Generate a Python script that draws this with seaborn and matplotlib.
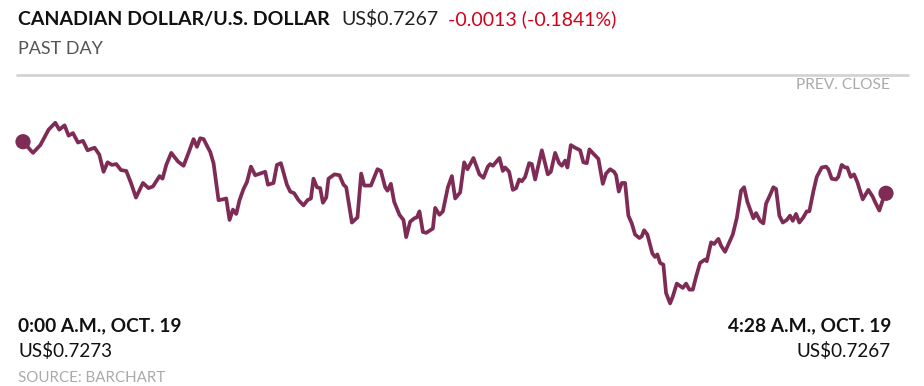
import matplotlib
matplotlib.use("Agg")
import matplotlib.pyplot as plt
import seaborn as sns
import pandas as pd
from matplotlib.lines import Line2D

# ---- data (minutes after 0:00, CAD/USD price) ----
minutes = [0, 3.10, 5.37, 7.95, 10.03, 11.27, 12.91, 14.16, 15.52, 17.07, 18.63, 20.05, 22.23, 23.69,
           25.02, 26.26, 27.63, 28.96, 30.42, 32.07, 33.53, 35.08, 37.25, 38.99, 40.36, 42.41, 43.34,
           44.49, 46.04, 48.12, 49.86, 51.41, 52.96, 54.02, 55.04, 56.07, 58.15, 59.17, 60.72, 62.09,
           63.11, 64.14, 65.19, 66.22, 67.24, 68.48, 69.54, 70.78, 72.12, 73.67, 75.22, 76.06, 77.80,
           78.85, 80.09, 81.96, 82.98, 84.22, 85.56, 87.11, 88.35, 89.41, 90.21, 91.27, 92.29, 93.13,
           94.16, 94.87, 96.73, 98.29, 99.53, 100.37, 102.14, 103.87, 105.02, 105.96, 108.04, 110.08,
           111.14, 112.47, 113.19, 114.24, 115.27, 116.91, 118.15, 118.99, 120.23, 121.57, 122.31,
           123.12, 124.18, 125.20, 127.28, 128.00, 129.33, 130.39, 131.94, 133.18, 134.21, 135.76,
           137.00, 138.02, 139.88, 141.75, 142.99, 144.35, 145.07, 145.91, 147.96, 149.01, 149.73,
           150.97, 152.12, 153.14, 154.07, 154.91, 155.93, 157.18, 158.01, 159.04, 161.12, 162.98,
           163.91, 165.25, 166.49, 167.33, 168.35, 169.07, 170.12, 171.46, 173.01, 174.03, 175.09,
           175.90, 177.14, 178.69, 180.06, 181.08, 182.32, 183.56, 184.18, 185.02, 185.95, 186.98,
           188.00, 189.06, 190.08, 191.42, 192.16, 192.88, 193.90, 195.45, 196.29, 197.00, 197.84,
           198.87, 199.70, 200.95, 201.79, 203.03, 204.89, 205.92, 206.94, 208.00, 209.02, 210.26,
           211.81, 212.34, 213.68, 214.61, 215.94, 216.78, 218.02, 218.74, 220.41, 221.66, 222.99,
           223.93, 224.95, 226.81, 227.65, 228.89, 229.91, 230.75, 231.99, 233.02, 233.86, 234.88,
           235.94, 237.18, 238.20, 239.04, 240.06, 241.09, 242.33, 243.38, 244.19, 245.43, 246.49,
           248.04, 249.37, 250.09, 251.14, 252.48, 253.19, 254.25, 255.27, 255.99, 257.05, 258.07,
           259.10, 260.77, 262.51, 263.88, 264.59, 265.93, 266.98, 268]
prices = [0.72730, 0.72717, 0.72726, 0.72744, 0.72752, 0.72744, 0.72749, 0.72737, 0.72740, 0.72729,
          0.72731, 0.72720, 0.72723, 0.72715, 0.72695, 0.72706, 0.72703, 0.72704, 0.72697, 0.72696,
          0.72682, 0.72665, 0.72682, 0.72676, 0.72678, 0.72690, 0.72687, 0.72703, 0.72717, 0.72707,
          0.72702, 0.72717, 0.72733, 0.72724, 0.72734, 0.72733, 0.72718, 0.72705, 0.72662, 0.72663,
          0.72664, 0.72639, 0.72651, 0.72646, 0.72662, 0.72675, 0.72683, 0.72701, 0.72691, 0.72693,
          0.72695, 0.72680, 0.72682, 0.72703, 0.72705, 0.72680, 0.72672, 0.72670, 0.72662, 0.72656,
          0.72662, 0.72664, 0.72687, 0.72677, 0.72676, 0.72659, 0.72665, 0.72687, 0.72692, 0.72691,
          0.72680, 0.72677, 0.72636, 0.72642, 0.72693, 0.72679, 0.72679, 0.72698, 0.72696, 0.72677,
          0.72673, 0.72681, 0.72660, 0.72645, 0.72639, 0.72619, 0.72637, 0.72641, 0.72642, 0.72649,
          0.72625, 0.72624, 0.72629, 0.72653, 0.72645, 0.72649, 0.72677, 0.72690, 0.72664, 0.72671,
          0.72706, 0.72698, 0.72711, 0.72692, 0.72688, 0.72701, 0.72704, 0.72702, 0.72711, 0.72696,
          0.72700, 0.72695, 0.72674, 0.72676, 0.72686, 0.72684, 0.72689, 0.72705, 0.72704, 0.72686,
          0.72720, 0.72692, 0.72695, 0.72717, 0.72705, 0.72702, 0.72708, 0.72700, 0.72726, 0.72723,
          0.72720, 0.72706, 0.72705, 0.72721, 0.72716, 0.72710, 0.72681, 0.72693, 0.72698, 0.72695,
          0.72691, 0.72672, 0.72682, 0.72682, 0.72644, 0.72635, 0.72622, 0.72618, 0.72620, 0.72627,
          0.72622, 0.72600, 0.72596, 0.72599, 0.72589, 0.72587, 0.72554, 0.72542, 0.72550, 0.72565,
          0.72560, 0.72565, 0.72558, 0.72558, 0.72573, 0.72589, 0.72593, 0.72591, 0.72613, 0.72611,
          0.72617, 0.72609, 0.72602, 0.72608, 0.72622, 0.72641, 0.72673, 0.72677, 0.72660, 0.72641,
          0.72647, 0.72638, 0.72635, 0.72658, 0.72668, 0.72677, 0.72675, 0.72644, 0.72636, 0.72639,
          0.72644, 0.72638, 0.72646, 0.72636, 0.72642, 0.72649, 0.72649, 0.72672, 0.72689, 0.72700,
          0.72701, 0.72698, 0.72687, 0.72686, 0.72689, 0.72703, 0.72700, 0.72700, 0.72689, 0.72692,
          0.72683, 0.72663, 0.72674, 0.72666, 0.72660, 0.72650, 0.72662, 0.72670]

title = "CANADIAN DOLLAR/U.S. DOLLAR"
last_price_label = "US$0.7267"
change_label = "-0.0013 (-0.1841%)"
subtitle = "PAST DAY"
prev_close_label = "PREV. CLOSE"
start_time_label = "0:00 A.M., OCT. 19"
end_time_label = "4:28 A.M., OCT. 19"
start_price_label = "US$0.7273"
end_price_label = "US$0.7267"
source_label = "SOURCE: BARCHART"

df = pd.DataFrame({"minute": minutes, "price": prices})
ends = df.iloc[[0, -1]]

LINE = "#7e2c56"
W, H = 924, 386

sns.set_theme(style="white")
plt.rcParams["font.family"] = ["Lato", "DejaVu Sans"]

fig = plt.figure(figsize=(W / 100, H / 100), dpi=100)
fig.patch.set_facecolor("white")

def fx(px):
    return px / W

def fy(py):
    return 1 - py / H

ax = fig.add_axes([fx(23), fy(310), fx(863), (310 - 74) / H])
sns.lineplot(data=df, x="minute", y="price", ax=ax, color=LINE, linewidth=2.7)
sns.scatterplot(data=ends, x="minute", y="price", ax=ax, color=LINE, s=120,
                edgecolor="none", zorder=5, clip_on=False)
ax.set_xlim(0, 268)
ax.set_ylim(0.725343, 0.728087)
ax.axis("off")

# separator / previous close rule
fig.add_artist(Line2D([fx(17), fx(908)], [fy(74.5), fy(74.5)], color="#d3d3d3", linewidth=2.0))

# header
t = fig.text(fx(18), fy(25), title, fontsize=14, fontweight="bold", color="#111111", va="baseline")
fig.canvas.draw()
r = fig.canvas.get_renderer()
bb = t.get_window_extent(r)
t2 = fig.text((bb.x1 + 12) / W, fy(25), last_price_label, fontsize=14, color="#222222", va="baseline")
bb2 = t2.get_window_extent(r)
fig.text((bb2.x1 + 9) / W, fy(25), change_label, fontsize=14, color="#d0021b", va="baseline")

fig.text(fx(18), fy(54), subtitle, fontsize=13, color="#555555", va="baseline")
fig.text(fx(890), fy(89), prev_close_label, fontsize=11.2, color="#aaaaaa", va="baseline", ha="right")

# footer
fig.text(fx(18), fy(331), start_time_label, fontsize=13.8, fontweight="bold", color="#111111", va="baseline")
fig.text(fx(18), fy(357), start_price_label, fontsize=13.6, color="#111111", va="baseline")
fig.text(fx(891), fy(331), end_time_label, fontsize=13.8, fontweight="bold", color="#111111",
         va="baseline", ha="right")
fig.text(fx(891), fy(357), end_price_label, fontsize=13.6, color="#111111", va="baseline", ha="right")
fig.text(fx(18), fy(382), source_label, fontsize=10.9, color="#aaaaaa", va="baseline")

fig.savefig("out.png", dpi=100, facecolor="white")
